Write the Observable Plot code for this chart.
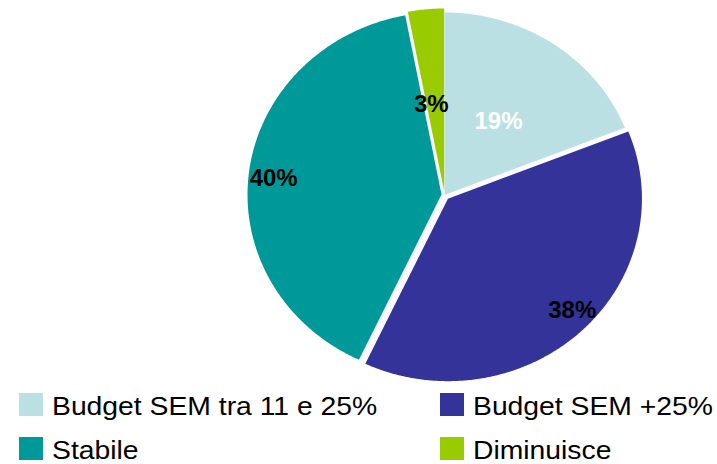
<!DOCTYPE html>
<html>
<head>
<meta charset="utf-8">
<script src="https://cdn.jsdelivr.net/npm/d3@7"></script>
<script src="https://cdn.jsdelivr.net/npm/@observablehq/plot@0.6"></script>
<style>
  html, body { margin: 0; padding: 0; background: #fff; }
  #wrap { position: relative; width: 717px; height: 464px; font-family: "Liberation Sans", Arial, sans-serif; }
  .sw { position: absolute; width: 24px; height: 23px; }
  .lt { position: absolute; font-size: 25.5px; line-height: 25.5px; white-space: nowrap; color: #000;
        transform: scaleX(1.11); transform-origin: left top; }
</style>
</head>
<body>
<div id="wrap"></div>
<script>
// ---- data ----
const categories = ["Budget SEM tra 11 e 25%", "Budget SEM +25%", "Stabile", "Diminuisce"];
const values = [19, 38, 40, 3];
const labels = ["19%", "38%", "40%", "3%"];
const colors = ["#BBE0E3", "#333399", "#009999", "#99CC00"];
const labelColors = ["white", "black", "black", "black"];

// ---- styling / layout ----
const explodePx = [0, 5, 3, 4];
const labelRadius = [0.49, 0.885, 0.87, 0.48];
const labelAngleShiftDeg = [0.4, -3.2, -1.2, -2.5];

const pie = d3.pie().sort(null).startAngle(0).endAngle(2 * Math.PI);
const arcs = pie(values);

const marks = [];
arcs.forEach((a, i) => {
  const pts = [{x: 0, y: 0, cat: categories[i]}];
  const n = Math.max(4, Math.ceil((a.endAngle - a.startAngle) / (Math.PI / 360)));
  for (let k = 0; k <= n; k++) {
    const t = a.startAngle + (a.endAngle - a.startAngle) * k / n;
    pts.push({x: Math.sin(t), y: Math.cos(t), cat: categories[i]});
  }
  const mid = (a.startAngle + a.endAngle) / 2;
  const dx = explodePx[i] * Math.sin(mid);
  const dy = -explodePx[i] * Math.cos(mid);
  marks.push(Plot.line(pts, {x: "x", y: "y", fill: "cat", stroke: "none", curve: "linear-closed", dx, dy}));
  a._mid = mid; a._dx = dx; a._dy = dy;
});
arcs.forEach((a, i) => {
  const r = labelRadius[i];
  const ang = a._mid + labelAngleShiftDeg[i] * Math.PI / 180;
  marks.push(Plot.text([{x: r * Math.sin(ang), y: r * Math.cos(ang), t: labels[i]}], {
    x: "x", y: "y", text: "t", fill: labelColors[i], fontSize: 24, fontWeight: "bold",
    fontFamily: "Liberation Sans, Arial, sans-serif", dx: a._dx, dy: a._dy
  }));
});

const chart = Plot.plot({
  width: 717, height: 392,
  marginLeft: 250, marginRight: 79, marginTop: 12, marginBottom: 15,
  x: {domain: [-1, 1], axis: null},
  y: {domain: [-1, 1], axis: null},
  color: {domain: categories, range: colors},
  style: {fontFamily: "Liberation Sans, Arial, sans-serif", background: "white"},
  marks
});
const wrap = document.getElementById("wrap");
chart.style.position = "absolute";
chart.style.left = "0px";
chart.style.top = "0px";
wrap.appendChild(chart);

// legend (HTML, below the svg)
const colX = [[19, 52], [440, 473]];
const rowY = [[393, 393.5], [437, 438]];
categories.forEach((c, i) => {
  const col = i % 2, row = Math.floor(i / 2);
  const sw = document.createElement("div");
  sw.className = "sw";
  sw.style.left = colX[col][0] + "px";
  sw.style.top = rowY[row][0] + "px";
  sw.style.background = colors[i];
  wrap.appendChild(sw);
  const t = document.createElement("div");
  t.className = "lt";
  t.style.left = colX[col][1] + "px";
  t.style.top = rowY[row][1] + "px";
  t.textContent = c;
  wrap.appendChild(t);
});
</script>
</body>
</html>
